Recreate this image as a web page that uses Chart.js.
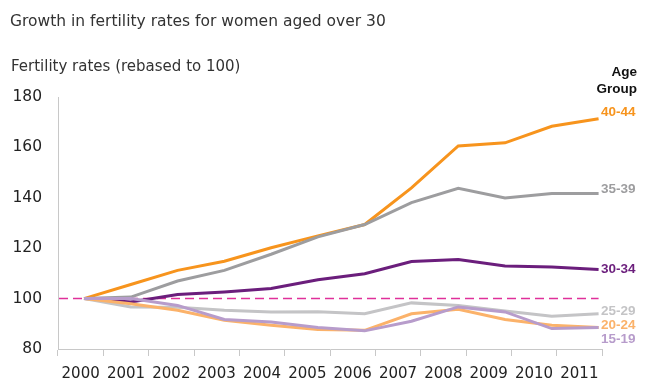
<!DOCTYPE html>
<html>
<head>
<meta charset="utf-8">
<script src="https://cdn.jsdelivr.net/npm/chart.js@4.4.1/dist/chart.umd.min.js"></script>
<style>
  html, body { margin: 0; padding: 0; background: #ffffff; }
  #wrap { position: relative; width: 648px; height: 385px; }
</style>
</head>
<body>
<div id="wrap"><canvas id="c" width="648" height="385"></canvas></div>
<script>
// ---- data ----
const years = ["2000","2001","2002","2003","2004","2005","2006","2007","2008","2009","2010","2011"];
const ageGroups = ["40-44","35-39","30-34","25-29","20-24","15-19"];
const age40_44 = [100, 105.6, 111.2, 114.8, 120.2, 124.9, 129.4, 143.9, 160.6, 161.8, 168.4, 171.4];
const age35_39 = [100, 100.6, 107.0, 111.2, 117.6, 124.5, 129.4, 138.1, 143.8, 139.9, 141.7, 141.7];
const age30_34 = [100, 98.7, 101.6, 102.6, 104.0, 107.5, 109.9, 114.7, 115.5, 112.9, 112.5, 111.5];
const age25_29 = [100, 96.7, 96.6, 95.4, 94.7, 94.8, 94.0, 98.3, 97.3, 95.1, 93.0, 94.0];
const age20_24 = [100, 98.0, 95.4, 91.4, 89.4, 87.7, 87.4, 94.0, 95.8, 91.7, 89.4, 88.5];
const age15_19 = [100, 100.0, 97.3, 91.7, 90.7, 88.5, 87.2, 91.0, 96.7, 94.7, 88.1, 88.5];
const baseline = 100;
const yTicks = [80, 100, 120, 140, 160, 180];
// value at which each right-hand label sits (labels are spread so they don't collide)
const labelAt = [173.9, 143.3, 111.5, 95.0, 89.3, 84.0];

const seriesValues = [age40_44, age35_39, age30_34, age25_29, age20_24, age15_19];
const colors = ["#F7941D", "#9D9D9F", "#6B1E7C", "#C4C4C6", "#FBB26A", "#B79CCB"];
const widths = [3, 3, 3, 3, 3, 3];

const FONT = "'DejaVu Sans', sans-serif";
const BOLD = "'Liberation Sans', Arial, sans-serif";

const datasets = seriesValues.map((vals, k) => ({
  label: ageGroups[k],
  data: vals.map((v, i) => ({ x: i, y: v })),
  borderColor: colors[k],
  backgroundColor: colors[k],
  borderWidth: widths[k],
  pointRadius: 0,
  tension: 0,
  xAxisID: 'x',
  yAxisID: 'y'
})).reverse();

const decor = {
  id: 'decor',
  beforeDatasetsDraw(chart) {
    const { ctx, chartArea } = chart;
    const ys = chart.scales.y, xs = chart.scales.x;
    const py = ys.getPixelForValue(baseline);
    ctx.save();
    ctx.strokeStyle = '#E0309A';
    ctx.lineWidth = 1.5;
    ctx.setLineDash([9, 5]);
    ctx.beginPath();
    ctx.moveTo(chartArea.left + 1, py);
    ctx.lineTo(xs.getPixelForValue(years.length - 1), py);
    ctx.stroke();
    ctx.restore();
  },
  afterDraw(chart) {
    const { ctx } = chart;
    const ys = chart.scales.y;
    ctx.save();
    ctx.textBaseline = 'alphabetic';
    // title
    ctx.fillStyle = '#333333';
    ctx.textAlign = 'left';
    ctx.font = "15.5px " + FONT;
    ctx.fillText("Growth in fertility rates for women aged over 30", 10, 26);
    ctx.font = "15px " + FONT;
    ctx.fillText("Fertility rates (rebased to 100)", 11, 71);
    // legend header
    ctx.textBaseline = 'middle';
    ctx.fillStyle = '#111111';
    ctx.font = "bold 13.5px " + BOLD;
    ctx.textAlign = 'right';
    ctx.fillText("Age", 637, 72);
    ctx.fillText("Group", 637, 89);
    // series labels
    ctx.textAlign = 'left';
    ctx.font = "bold 13.5px " + BOLD;
    ageGroups.forEach((g, k) => {
      ctx.fillStyle = colors[k];
      ctx.fillText(g, 601, ys.getPixelForValue(labelAt[k]));
    });
    ctx.restore();
  }
};

new Chart(document.getElementById('c'), {
  type: 'line',
  data: { labels: years, datasets },
  options: {
    responsive: false,
    animation: false,
    devicePixelRatio: 1,
    layout: { padding: { top: 97, right: 46, left: 0, bottom: 0 } },
    plugins: { legend: { display: false }, tooltip: { enabled: false } },
    scales: {
      x: {
        type: 'linear',
        display: false,
        min: -0.556,
        max: 11.073
      },
      x2: {
        type: 'category',
        labels: years,
        position: 'bottom',
        offset: true,
        grid: { offset: true, drawOnChartArea: false, tickLength: 7, color: '#C8C8C8', lineWidth: 1 },
        border: { display: true, color: '#C8C8C8', width: 1 },
        ticks: { color: '#222222', font: { family: FONT, size: 15 }, padding: 9, maxRotation: 0, autoSkip: false },
        afterFit(s) { s.height = 36; }
      },
      y: {
        type: 'linear',
        min: 80, max: 180,
        afterBuildTicks(s) { s.ticks = yTicks.map(v => ({ value: v })); },
        grid: { display: false, drawTicks: false },
        border: { display: true, color: '#C8C8C8', width: 1 },
        ticks: { color: '#222222', font: { family: FONT, size: 15.5 }, padding: 16 },
        afterFit(s) { s.width = 58; }
      }
    }
  },
  plugins: [decor]
});
</script>
</body>
</html>
